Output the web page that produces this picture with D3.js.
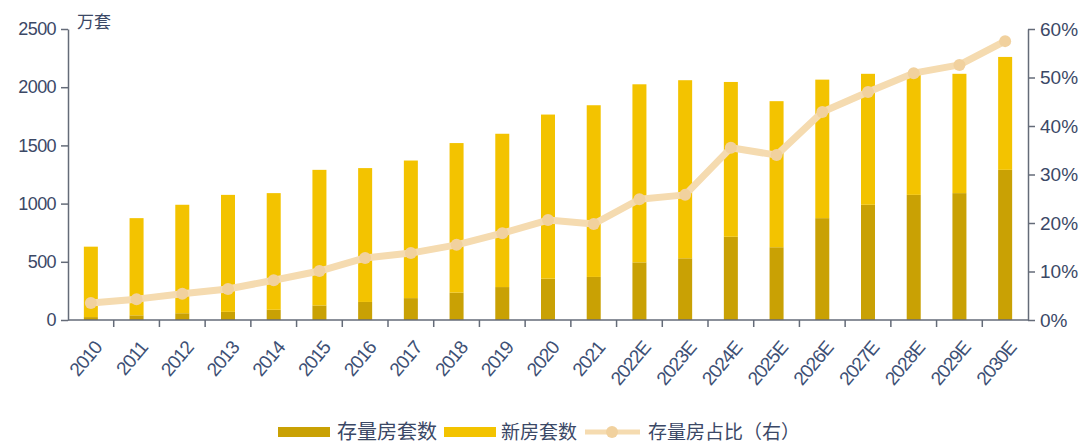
<!DOCTYPE html>
<html>
<head>
<meta charset="utf-8">
<script src="https://cdn.jsdelivr.net/npm/d3@7/dist/d3.min.js"></script>
<style>
  html, body { margin: 0; padding: 0; background: #fff; }
  svg { display: block; }
</style>
</head>
<body>
<svg id="chart" width="1085" height="448"></svg>
<script>
const categories = ["2010","2011","2012","2013","2014","2015","2016","2017","2018","2019","2020","2021","2022E","2023E","2024E","2025E","2026E","2027E","2028E","2029E","2030E"];
const stockUnits = [25, 40, 58, 70, 88, 125, 155, 188, 235, 283, 355, 370, 495, 530, 715, 625, 875, 990, 1075, 1090, 1290];
const totalUnits = [630, 875, 990, 1075, 1090, 1290, 1305, 1370, 1520, 1600, 1765, 1845, 2025, 2060, 2045, 1880, 2065, 2115, 2105, 2115, 2260];
const newUnits = totalUnits.map((t, i) => t - stockUnits[i]);
const stockShare = [3.5, 4.3, 5.4, 6.4, 8.2, 10.1, 12.8, 13.8, 15.5, 17.9, 20.6, 19.8, 24.9, 25.8, 35.5, 34.0, 42.9, 47.0, 50.9, 52.6, 57.5];
const leftTicks = [0, 500, 1000, 1500, 2000, 2500];
const rightTicks = [0, 10, 20, 30, 40, 50, 60];
const seriesNames = ["存量房套数", "新房套数", "存量房占比（右）"];
const unitLabel = "万套";

const C_STOCK = "#c9a104";
const C_NEW = "#f3c300";
const C_LINE = "#f5dbb0";
const C_DOT = "#f1d19e";
const C_AXIS = "#646b78";
const C_TEXT = "#3b4866";
const FONT = "'Liberation Sans', Arial, sans-serif";
const CJK = "'Noto Sans CJK SC', 'Liberation Sans', sans-serif";

const svg = d3.select("#chart");
const L = 68, R = 1028, T = 29, B = 320;

const x = d3.scaleBand().domain(categories).range([L, R]).paddingInner(0).paddingOuter(0);
const y = d3.scaleLinear().domain([0, 2500]).range([B, T]);
const y2 = d3.scaleLinear().domain([0, 60]).range([B, T]);
const barW = 14;

// bars
const g = svg.append("g");
g.selectAll("rect.stock").data(categories).enter().append("rect")
  .attr("class", "stock")
  .attr("x", d => x(d) + x.bandwidth() / 2 - barW / 2)
  .attr("width", barW)
  .attr("y", (d, i) => y(stockUnits[i]))
  .attr("height", (d, i) => y(0) - y(stockUnits[i]))
  .attr("fill", C_STOCK);
g.selectAll("rect.new").data(categories).enter().append("rect")
  .attr("class", "new")
  .attr("x", d => x(d) + x.bandwidth() / 2 - barW / 2)
  .attr("width", barW)
  .attr("y", (d, i) => y(stockUnits[i] + newUnits[i]))
  .attr("height", (d, i) => y(stockUnits[i]) - y(stockUnits[i] + newUnits[i]))
  .attr("fill", C_NEW);

// line
const line = d3.line()
  .x((d, i) => x(categories[i]) + x.bandwidth() / 2)
  .y(d => y2(d));
g.append("path").datum(stockShare)
  .attr("d", line)
  .attr("fill", "none")
  .attr("stroke", C_LINE)
  .attr("stroke-width", 7)
  .attr("stroke-linejoin", "round")
  .attr("stroke-linecap", "round");
g.selectAll("circle.pt").data(stockShare).enter().append("circle")
  .attr("class", "pt")
  .attr("cx", (d, i) => x(categories[i]) + x.bandwidth() / 2)
  .attr("cy", d => y2(d))
  .attr("r", 6)
  .attr("fill", C_DOT);

// axes
function styleAxis(sel) {
  sel.selectAll("path, line").attr("stroke", C_AXIS).attr("stroke-width", 1.5);
  sel.selectAll("text").attr("fill", C_TEXT).attr("font-family", FONT);
}

const yAxis = svg.append("g").attr("transform", `translate(${L},0)`)
  .call(d3.axisLeft(y).tickValues(leftTicks).tickFormat(d3.format("d")).tickSize(7).tickSizeOuter(0).tickPadding(5));
styleAxis(yAxis);
yAxis.selectAll("text").attr("font-size", 18).attr("letter-spacing", "-0.6px");

const y2Axis = svg.append("g").attr("transform", `translate(${R},0)`)
  .call(d3.axisRight(y2).tickValues(rightTicks).tickFormat(d => d + "%").tickSize(7).tickSizeOuter(0).tickPadding(5));
styleAxis(y2Axis);
y2Axis.selectAll("text").attr("font-size", 19);

// x axis with ticks at band boundaries
const xAxis = svg.append("g").attr("transform", `translate(0,${B})`);
xAxis.append("line").attr("x1", L).attr("x2", R).attr("y1", 0).attr("y2", 0)
  .attr("stroke", C_AXIS).attr("stroke-width", 1.5);
const bounds = categories.map(d => x(d)).concat([R]);
xAxis.selectAll("line.tk").data(bounds.slice(1, -1)).enter().append("line")
  .attr("class", "tk")
  .attr("x1", d => d).attr("x2", d => d).attr("y1", 0).attr("y2", 7)
  .attr("stroke", C_AXIS).attr("stroke-width", 1.5);
xAxis.selectAll("text").data(categories).enter().append("text")
  .attr("transform", d => `translate(${x(d) + x.bandwidth() / 2 + 7},${24}) rotate(-50)`)
  .attr("text-anchor", "end")
  .attr("dy", "0.35em")
  .attr("font-family", FONT)
  .attr("font-size", 19)
  .attr("letter-spacing", "-1px")
  .attr("fill", "#3d5075")
  .text(d => d);

// unit label
svg.append("text").attr("x", 77).attr("y", 28)
  .attr("font-family", CJK).attr("font-size", 17).attr("fill", C_TEXT)
  .text(unitLabel);

// legend
const lg = svg.append("g");
const ly = 432;
lg.append("rect").attr("x", 278).attr("y", ly - 5).attr("width", 52).attr("height", 10).attr("fill", C_STOCK);
lg.append("text").attr("x", 337).attr("y", ly).attr("dy", "0.35em")
  .attr("font-family", CJK).attr("font-size", 20).attr("fill", C_TEXT).text(seriesNames[0]);
lg.append("rect").attr("x", 444).attr("y", ly - 5).attr("width", 52).attr("height", 10).attr("fill", C_NEW);
lg.append("text").attr("x", 501).attr("y", ly).attr("dy", "0.35em")
  .attr("font-family", CJK).attr("font-size", 19).attr("fill", C_TEXT).text(seriesNames[1]);
lg.append("line").attr("x1", 585).attr("x2", 640).attr("y1", ly).attr("y2", ly)
  .attr("stroke", C_LINE).attr("stroke-width", 5);
lg.append("circle").attr("cx", 612).attr("cy", ly).attr("r", 6).attr("fill", C_DOT);
lg.append("text").attr("x", 648).attr("y", ly).attr("dy", "0.35em")
  .attr("font-family", CJK).attr("font-size", 19).attr("fill", C_TEXT).text(seriesNames[2]);
</script>
</body>
</html>
